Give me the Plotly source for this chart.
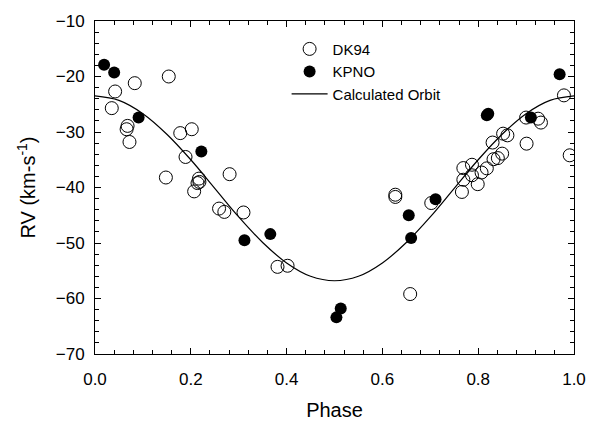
import plotly.graph_objects as go

# DK94 (open circles)
dk94_phase = [0.083, 0.154, 0.042, 0.035, 0.068, 0.066, 0.072, 0.178, 0.202, 0.189,
              0.148, 0.281, 0.217, 0.218, 0.214, 0.207, 0.259, 0.270, 0.310, 0.381,
              0.402, 0.627, 0.627, 0.658, 0.702, 0.766, 0.769, 0.769, 0.787, 0.787,
              0.799, 0.807, 0.818, 0.832, 0.841, 0.850, 0.830, 0.852, 0.861, 0.900,
              0.925, 0.931, 0.901, 0.979, 0.991]
dk94_rv = [-21.2, -20.0, -22.7, -25.7, -28.9, -29.5, -31.8, -30.2, -29.5, -34.5,
           -38.2, -37.6, -38.4, -39.0, -39.2, -40.7, -43.8, -44.4, -44.5, -54.3,
           -54.1, -41.3, -41.7, -59.2, -42.8, -40.8, -36.5, -38.6, -35.9, -37.8,
           -39.4, -37.3, -36.55, -34.9, -34.7, -33.9, -31.9, -30.3, -30.6, -27.4,
           -27.6, -28.3, -32.1, -23.4, -34.2]

# KPNO (filled circles)
kpno_phase = [0.019, 0.040, 0.091, 0.222, 0.312, 0.366, 0.504, 0.513, 0.655, 0.660,
              0.711, 0.818, 0.821, 0.910, 0.970]
kpno_rv = [-17.9, -19.3, -27.4, -33.5, -49.5, -48.4, -63.4, -61.8, -45.0, -49.1,
           -42.1, -27.0, -26.7, -27.4, -19.6]

# Calculated orbit
orbit_phase = [0.00, 0.05, 0.10, 0.15, 0.20, 0.25, 0.30, 0.35, 0.40, 0.45, 0.50,
               0.55, 0.60, 0.65, 0.70, 0.75, 0.80, 0.85, 0.90, 0.95, 1.00]
orbit_rv = [-23.5, -24.3, -26.7, -30.4, -35.0, -40.15, -45.3, -49.9, -53.6, -56.0, -56.8,
            -56.0, -53.6, -49.9, -45.3, -40.15, -35.0, -30.4, -26.7, -24.3, -23.5]

FONT = "Liberation Sans, Arial, Helvetica, sans-serif"

fig = go.Figure()
fig.add_trace(go.Scatter(
    x=dk94_phase, y=dk94_rv, mode="markers", name="DK94",
    marker=dict(symbol="circle-open", size=13, color="black", line=dict(width=1))))
fig.add_trace(go.Scatter(
    x=kpno_phase, y=kpno_rv, mode="markers", name="KPNO",
    marker=dict(symbol="circle", size=12, color="black")))
fig.add_trace(go.Scatter(
    x=orbit_phase, y=orbit_rv, mode="lines", name="Calculated Orbit",
    line=dict(color="black", width=1.2, shape="spline")))

axis_common = dict(
    showline=True, linecolor="black", linewidth=1, mirror="ticks",
    ticks="inside", ticklen=6, tickcolor="black", tickwidth=1,
    showgrid=False, zeroline=False,
    tickfont=dict(family=FONT, size=17, color="black"),
)

fig.update_xaxes(
    range=[0, 1], tickvals=[0, 0.2, 0.4, 0.6, 0.8, 1.0],
    ticktext=["0.0", "0.2", "0.4", "0.6", "0.8", "1.0"],
    minor=dict(dtick=0.04, tick0=0, ticks="inside", ticklen=4, tickcolor="black"),
    title=dict(text="Phase", font=dict(family=FONT, size=20, color="black"), standoff=14),
    ticklabelstandoff=10,
    **axis_common)
fig.update_yaxes(
    range=[-70, -10], tickvals=[-70, -60, -50, -40, -30, -20, -10],
    minor=dict(dtick=2, tick0=-70, ticks="inside", ticklen=4, tickcolor="black"),
    title=dict(text="RV (km-s<sup>-1</sup>)", font=dict(family=FONT, size=20, color="black"), standoff=14),
    ticklabelstandoff=6,
    **axis_common)

fig.update_layout(
    width=598, height=430,
    margin=dict(l=95, r=22, t=18, b=76),
    paper_bgcolor="white", plot_bgcolor="white",
    font=dict(family=FONT, color="black"),
    legend=dict(x=0.40, y=0.965, xanchor="left", yanchor="top",
                bgcolor="rgba(0,0,0,0)", font=dict(family=FONT, size=15, color="black"),
                itemwidth=36, tracegroupgap=0),
)

fig.write_html("out.html")
